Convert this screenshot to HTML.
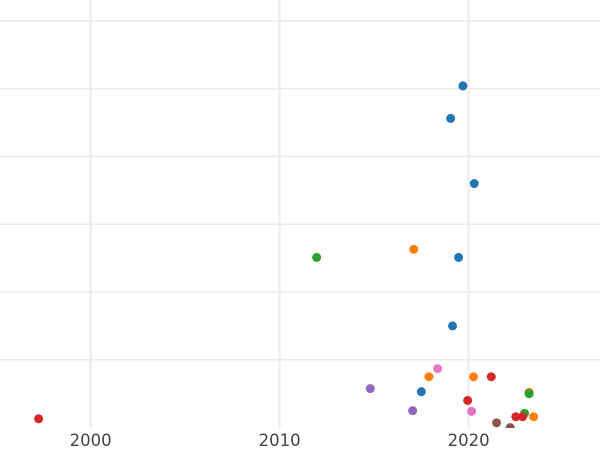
<!DOCTYPE html>
<html><head><meta charset="utf-8"><style>
body{margin:0;background:#fff;}
svg{display:block;font-family:"DejaVu Sans","Liberation Sans",sans-serif;}
</style></head><body>
<svg id="chart" width="600" height="450">
<defs><clipPath id="plot-clip"><rect x="0" y="0" width="600" height="428"/></clipPath></defs>
<g id="grid"></g>
<g id="points" clip-path="url(#plot-clip)"></g>
<g id="xaxis"></g>
</svg>
<script>
const years = [2019.7,2019.05,2020.3,2011.96,2017.1,2019.47,2019.15,2018.36,2017.9,2020.26,2021.2,2014.8,2017.5,2023.2,2023.2,2019.95,2017.04,2020.16,2022.96,2022.5,2022.86,2023.44,2021.48,2022.2,1997.25];
const values = [5.04,4.56,3.6,2.51,2.63,2.51,1.5,0.87,0.75,0.75,0.75,0.575,0.53,0.52,0.5,0.4,0.25,0.24,0.21,0.16,0.16,0.16,0.07,0.0,0.13];
const groups = ["blue","blue","blue","green","orange","blue","blue","pink","orange","orange","red","purple","blue","orange","green","red","purple","pink","green","red","red","orange","brown","brown","red"];
const xTicks = [2000,2010,2020];
const yGrid = [1,2,3,4,5,6];
const palette = {blue:"#1f77b4",orange:"#ff7f0e",green:"#2ca02c",red:"#d62728",purple:"#9467bd",brown:"#8c564b",pink:"#e377c2"};
const NS="http://www.w3.org/2000/svg";
function xs(v){return 90.6+(v-2000)*18.9;}
function ys(v){return 427.6-v*67.8;}
const grid=document.getElementById('grid');
yGrid.forEach(v=>{
  const l=document.createElementNS(NS,'line');
  
  
  l.setAttribute('x1',0);l.setAttribute('x2',600);l.setAttribute('y1',ys(v));l.setAttribute('y2',ys(v));
  l.setAttribute('stroke','#ebebeb');l.setAttribute('stroke-width',1.5);
  grid.appendChild(l);
});
const xa=document.getElementById('xaxis');
xTicks.forEach(v=>{
  const l=document.createElementNS(NS,'line');
  
  
  l.setAttribute('x1',xs(v));l.setAttribute('x2',xs(v));l.setAttribute('y1',0);l.setAttribute('y2',428);
  l.setAttribute('stroke','#ebebeb');l.setAttribute('stroke-width',2);
  grid.appendChild(l);
  const t=document.createElementNS(NS,'text');
  
  
  t.setAttribute('x',xs(v));t.setAttribute('y',446);t.setAttribute('text-anchor','middle');
  t.setAttribute('font-size',16.5);t.setAttribute('fill','#444');
  t.textContent=v;
  xa.appendChild(t);
});
const pts=document.getElementById('points');
years.forEach((y,i)=>{
  const c=document.createElementNS(NS,'circle');
  
  
  c.setAttribute('cx',xs(y));c.setAttribute('cy',ys(values[i]));c.setAttribute('r',4.5);
  c.setAttribute('fill',palette[groups[i]]);
  pts.appendChild(c);
});
</script>
</body></html>
